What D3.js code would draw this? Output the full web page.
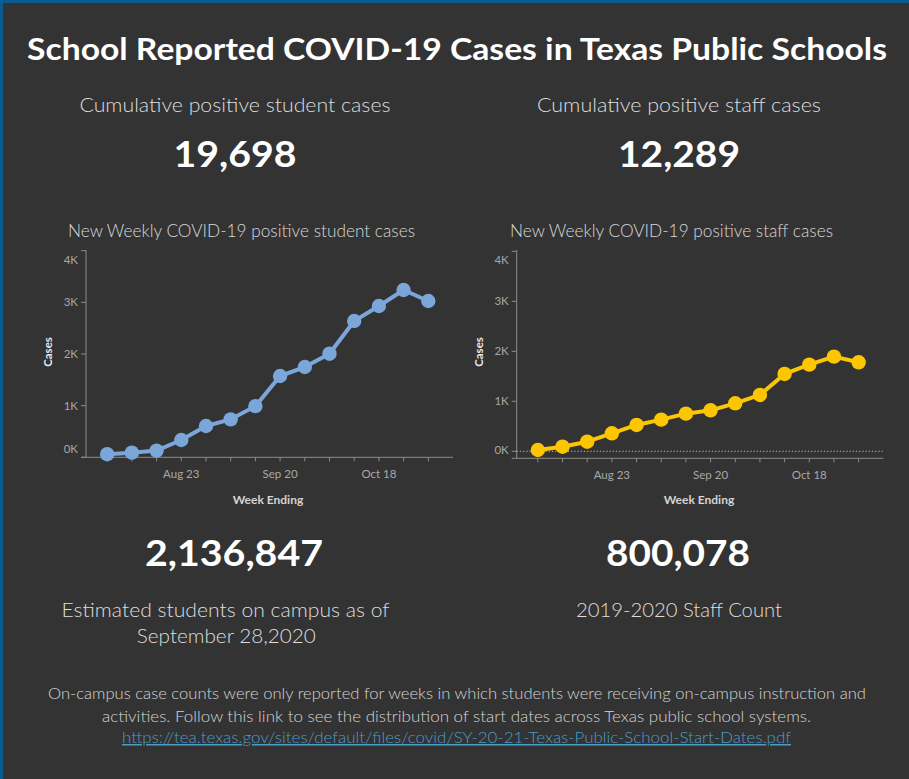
<!DOCTYPE html>
<html>
<head>
<meta charset="utf-8">
<script src="https://cdn.jsdelivr.net/npm/d3@7"></script>
<style>
  html, body { margin: 0; padding: 0; background: #333333; }
  svg { display: block; }
</style>
</head>
<body>
<svg id="chart" width="909" height="779"></svg>
<script>
// ---------------- data ----------------
const weeks = ["2020-08-02","2020-08-09","2020-08-16","2020-08-23","2020-08-30","2020-09-06","2020-09-13",
               "2020-09-20","2020-09-27","2020-10-04","2020-10-11","2020-10-18","2020-10-25","2020-11-01"];
const studentCases = [60, 90, 130, 335, 606, 735, 990, 1574, 1748, 2006, 2639, 2929, 3239, 3026];
const staffCases   = [26, 92, 192, 360, 527, 633, 753, 820, 960, 1127, 1547, 1733, 1893, 1780];
const yTickValues  = [0, 1000, 2000, 3000, 4000];
const xTickLabels  = ["2020-08-23", "2020-09-20", "2020-10-18"];

const titleText = "School Reported COVID-19 Cases in Texas Public Schools";
const studentCumulative = 19698;
const staffCumulative = 12289;
const studentsOnCampus = 2136847;
const staffCount = 800078;
const footerLines = [
  "On-campus case counts were only reported for weeks in which students were receiving on-campus instruction and",
  "activities. Follow this link to see the distribution of start dates across Texas public school systems."
];
const footerLink = "https://tea.texas.gov/sites/default/files/covid/SY-20-21-Texas-Public-School-Start-Dates.pdf";

// ---------------- drawing ----------------
const svg = d3.select("#chart");
const W = 909, H = 779;
const FONT = "Lato, 'Open Sans', sans-serif";
const parse = d3.timeParse("%Y-%m-%d");
const fmtNum = d3.format(",");

svg.append("rect").attr("width", W).attr("height", H).attr("fill", "#333333");
svg.append("rect").attr("x", 0).attr("y", 0).attr("width", W).attr("height", 3).attr("fill", "#0b5b8e");
svg.append("rect").attr("x", 0).attr("y", 0).attr("width", 3).attr("height", H).attr("fill", "#0b5b8e");

function txt(x, y, s, size, weight, fill, target) {
  const t = svg.append("text")
    .attr("x", x).attr("y", y)
    .attr("text-anchor", "middle")
    .attr("font-family", FONT)
    .attr("font-size", size)
    .attr("font-weight", weight)
    .attr("fill", fill)
    .text(s);
  if (target) {
    const w = t.node().getComputedTextLength();
    if (Math.abs(w - target) > 2) t.attr("textLength", target).attr("lengthAdjust", "spacingAndGlyphs");
  }
  return t;
}

txt(457, 60, titleText, 30, 700, "#ffffff", 860);

txt(235, 111.5, "Cumulative positive student cases", 20, 300, "#dedede", 311);
txt(235, 167, fmtNum(studentCumulative), 37, 700, "#ffffff", 123);
txt(679, 111.5, "Cumulative positive staff cases", 20, 300, "#dedede", 284);
txt(679, 167, fmtNum(staffCumulative), 37, 700, "#ffffff", 122);

txt(241.5, 236.5, "New Weekly COVID-19 positive student cases", 17, 300, "#d8d8d8", 347);
txt(671.5, 236.5, "New Weekly COVID-19 positive staff cases", 17, 300, "#d8d8d8", 323);

txt(234, 565.5, fmtNum(studentsOnCampus), 37, 700, "#ffffff", 178);
txt(678, 565.5, fmtNum(staffCount), 37, 700, "#ffffff", 144);
txt(225.5, 617, "Estimated students on campus as of", 20, 300, "#dedede", 328);
txt(226.3, 642.5, "September 28,2020", 20, 300, "#dedede", 179);
txt(679, 617, "2019-2020 Staff Count", 20, 300, "#dedede", 206);

txt(457, 699, footerLines[0], 15, 300, "#d4d4d4", 818);
txt(456.5, 722, footerLines[1], 15, 300, "#d4d4d4", 709);
const link = txt(456.5, 743, footerLink, 15, 300, "#4d9cc4", 669);
link.attr("text-decoration", "underline");

// ---------------- line charts ----------------
function lineChart(opt) {
  const g = svg.append("g");
  const x = d3.scaleTime()
    .domain([parse("2020-07-27"), parse("2020-11-08")])
    .range([opt.x0, opt.x1]);
  const y = d3.scaleLinear().domain([0, 4000]).range([opt.y0, opt.y4]);
  const axisColor = "#8c8c8c";
  const labelColor = "#a8a8a8";

  // y axis line
  g.append("line").attr("x1", opt.x0).attr("x2", opt.x0)
    .attr("y1", opt.top).attr("y2", opt.axisY).attr("stroke", axisColor).attr("stroke-width", 1);
  // x axis line
  g.append("line").attr("x1", opt.x0 - 5).attr("x2", opt.x1)
    .attr("y1", opt.axisY).attr("y2", opt.axisY).attr("stroke", axisColor).attr("stroke-width", 1);

  // y ticks
  const yt = g.selectAll(".yt").data(yTickValues).enter().append("g");
  yt.append("line").attr("x1", opt.x0 - 5).attr("x2", opt.x0)
    .attr("y1", d => y(d)).attr("y2", d => y(d)).attr("stroke", axisColor);
  yt.append("text")
    .attr("x", opt.x0 - 8)
    .attr("y", d => {
      let yy = y(d);
      if (d === 4000) yy = Math.max(yy, opt.top + 10);
      if (yy > opt.axisY - 8) yy = opt.axisY - 8;
      return yy;
    })
    .attr("dy", "0.35em")
    .attr("text-anchor", "end")
    .attr("font-family", FONT).attr("font-size", 11.5).attr("fill", labelColor)
    .text(d => d3.format(".0f")(d / 1000) + "K");

  // x minor ticks (every week)
  g.selectAll(".xt").data(weeks).enter().append("line")
    .attr("x1", d => x(parse(d))).attr("x2", d => x(parse(d)))
    .attr("y1", opt.axisY).attr("y2", opt.axisY + 4)
    .attr("stroke", axisColor);
  g.selectAll(".xl").data(xTickLabels).enter().append("text")
    .attr("x", d => x(parse(d)))
    .attr("y", opt.axisY + 17)
    .attr("dy", "0.35em")
    .attr("text-anchor", "middle")
    .attr("font-family", FONT).attr("font-size", 11.5).attr("fill", labelColor)
    .text(d => d3.timeFormat("%b %-d")(parse(d)));

  // axis titles
  g.append("text")
    .attr("transform", `translate(${opt.casesX},352) rotate(-90)`)
    .attr("dy", "0.35em")
    .attr("text-anchor", "middle")
    .attr("font-family", FONT).attr("font-size", 11.5).attr("font-weight", 700).attr("fill", "#e6e6e6")
    .text("Cases");
  g.append("text")
    .attr("x", opt.weekX).attr("y", 500)
    .attr("dy", "0.35em")
    .attr("text-anchor", "middle")
    .attr("font-family", FONT).attr("font-size", 12).attr("font-weight", 700).attr("fill", "#d4d4d4")
    .text("Week Ending");

  if (opt.zeroLine) {
    g.append("line").attr("x1", opt.x0).attr("x2", opt.x1)
      .attr("y1", y(0)).attr("y2", y(0))
      .attr("stroke", "#bdbdbd").attr("stroke-width", 1).attr("stroke-dasharray", "1.2,2");
  }

  const pts = weeks.map((w, i) => ({ d: parse(w), v: opt.values[i] }));
  g.append("path").datum(pts)
    .attr("fill", "none").attr("stroke", opt.color).attr("stroke-width", 4)
    .attr("stroke-linejoin", "round")
    .attr("d", d3.line().x(p => x(p.d)).y(p => y(p.v)));
  g.selectAll(".dot").data(pts).enter().append("circle")
    .attr("cx", p => x(p.d)).attr("cy", p => y(p.v)).attr("r", 7.2)
    .attr("fill", opt.color);
}

lineChart({ x0: 86, x1: 453, top: 250, axisY: 457.3, y0: 457.3, y4: 250.7,
            values: studentCases, color: "#7ba6da", casesX: 47.5, weekX: 268, zeroLine: false });
lineChart({ x0: 516.7, x1: 883.3, top: 250, axisY: 458.3, y0: 451.3, y4: 251.3,
            values: staffCases, color: "#fcc602", casesX: 478.5, weekX: 699, zeroLine: true });
</script>
</body>
</html>
